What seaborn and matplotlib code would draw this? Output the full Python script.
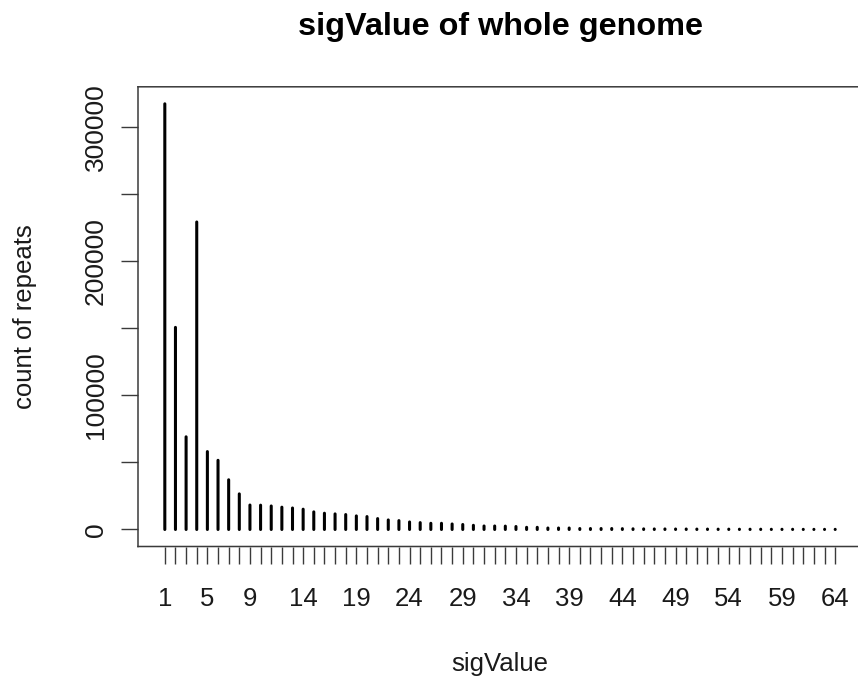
import numpy as np
import pandas as pd
import matplotlib
matplotlib.use("Agg")
import matplotlib.pyplot as plt
import seaborn as sns

# sigValue categories and the number of repeats at each value
sig_values = list(range(1, 65))
repeat_counts = [
    317000, 150500, 69000, 229000, 58000, 51500, 37000, 26500, 18200, 18100,
    17500, 16600, 16000, 15100, 13100, 12100, 11600, 11100, 10100, 9600,
    8100, 7100, 6600, 5600, 5100, 4600, 4600, 4100, 3700, 3100,
    2600, 2600, 2500, 2200, 1600, 1600, 1100, 1100, 1100, 700,
    700, 700, 700, 600, 500, 450, 400, 400, 350, 350,
    300, 300, 250, 250, 200, 200, 200, 150, 150, 150,
    100, 100, 100, 100,
]
x_tick_labels = ["1", "5", "9", "14", "19", "24", "29", "34", "39", "44",
                 "49", "54", "59", "64"]
y_ticks = [0, 50000, 100000, 150000, 200000, 250000, 300000]
y_tick_labels = ["0", "", "100000", "", "200000", "", "300000"]

sns.set_style("ticks")
plt.rcParams["font.family"] = ["Liberation Sans", "DejaVu Sans"]
# keep very short segments (the tail of the distribution) as visible dots
plt.rcParams["path.simplify"] = False
plt.rcParams["path.snap"] = False

# long table: each sigValue gets a vertical segment from 0 to its count
seg = pd.DataFrame({
    "sig": np.repeat(sig_values, 2),
    "count": np.ravel([[0, c] for c in repeat_counts]),
})

W, H = 858, 680
fig = plt.figure(figsize=(W / 100, H / 100), dpi=100)
left, right, top, bottom = 138, 862, 86.8, 546.5
ax = fig.add_axes([left / W, 1 - bottom / H, (right - left) / W, (bottom - top) / H])

sns.lineplot(data=seg, x="sig", y="count", units="sig", estimator=None,
             sort=False, color="black", linewidth=2.2,
             solid_capstyle="round", ax=ax, legend=False)

n = len(sig_values)
ymax = max(repeat_counts)
ax.set_xlim(1 - 0.04 * (n - 1), n + 0.04 * (n - 1))
ax.set_ylim(-0.04 * ymax, 1.04 * ymax)

edge = "#3a3a3a"
for s in ax.spines.values():
    s.set_color(edge)
    s.set_linewidth(1.1)

ax.set_xticks(sig_values)
ax.set_xticklabels([str(v) if str(v) in x_tick_labels else "" for v in sig_values])
ax.set_yticks(y_ticks)
ax.set_yticklabels(y_tick_labels, rotation=90, va="center")

ax.tick_params(axis="x", length=12.5, width=1.0, color=edge, pad=17,
               labelsize=18.5, labelcolor="#1a1a1a")
ax.tick_params(axis="y", length=12.2, width=1.0, color=edge, pad=9.5,
               labelsize=19, labelcolor="#1a1a1a")

ax.set_xlabel("sigValue", fontsize=18.5, color="#1a1a1a", va="baseline")
ax.xaxis.set_label_coords((500 - left) / (right - left), -(671.5 - bottom) / (bottom - top))
ax.set_ylabel("count of repeats", fontsize=18.5, color="#1a1a1a", va="baseline")
ax.yaxis.set_label_coords(-(138 - 32.5) / (right - left), 0.5)

ax.set_title("sigValue of whole genome", fontsize=23.3, fontweight="bold",
             color="black", y=(bottom - 35) / (bottom - top), pad=0)

fig.savefig("out.png", dpi=100)
